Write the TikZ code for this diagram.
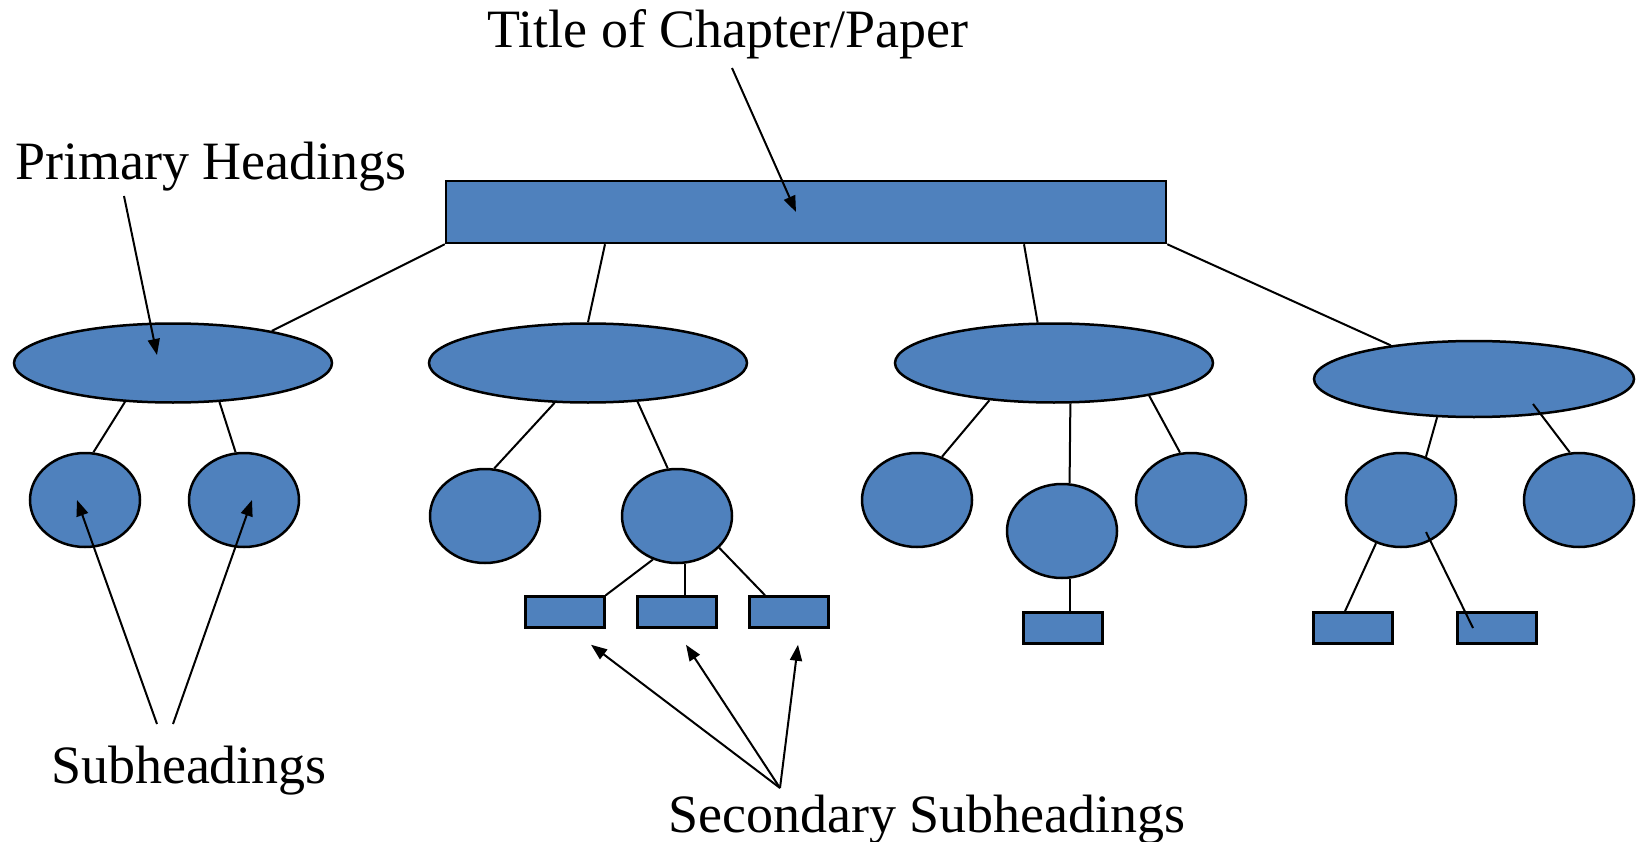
\documentclass[tikz,border=0pt]{standalone}
\usepackage{fontspec}
\setmainfont{Liberation Serif}
\definecolor{headblue}{RGB}{79, 129, 189}
\usetikzlibrary{shapes.geometric, arrows.meta, positioning, calc}
\tikzset{
  titlebox/.style={rectangle, draw=black, fill=headblue, line width=2.5pt, inner sep=0pt, minimum width=720pt, minimum height=62pt},
  primnode/.style={ellipse, draw=black, fill=headblue, line width=2.5pt, inner sep=0pt, minimum width=318pt, minimum height=79pt},
  subnode/.style={primnode, minimum width=110pt, minimum height=94pt},
  secbox/.style={titlebox, minimum width=79pt, minimum height=31pt},
  treeline/.style={line width=2pt, black},
  callout/.style={-{Triangle[length=16pt,width=12pt]}, line width=2pt, black},
  labeltext/.style={font=\fontsize{54}{60}\selectfont, inner sep=0pt, anchor=base},
}

\begin{document}
\begin{tikzpicture}[x=1pt, y=-1pt]
  \useasboundingbox (0,0) rectangle (1637,842);
  % chapter
  \node[titlebox] (title) at (806,212) {};
  % primary headings
  \node[primnode] (p1) at (173,363) {};
  \node[primnode] (p2) at (588,363) {};
  \node[primnode] (p3) at (1054,363) {};
  \node[primnode, minimum width=320pt, minimum height=76pt] (p4) at (1474,379) {};
  % subheadings
  \node[subnode] (s1) at (85,500) {};
  \node[subnode] (s2) at (244,500) {};
  \node[subnode] (s3) at (485,516) {};
  \node[subnode] (s4) at (677,516) {};
  \node[subnode] (s5) at (917,500) {};
  \node[subnode] (s6) at (1062,531) {};
  \node[subnode] (s7) at (1191,500) {};
  \node[subnode] (s8) at (1401,500) {};
  \node[subnode] (s9) at (1579,500) {};
  % secondary subheadings
  \node[secbox] (b1) at (565,612) {};
  \node[secbox] (b2) at (677,612) {};
  \node[secbox] (b3) at (789,612) {};
  \node[secbox] (b4) at (1063,628) {};
  \node[secbox] (b5) at (1353,628) {};
  \node[secbox] (b6) at (1497,628) {};

  % tree
  \foreach \i/\j in {title.south west/p1.18, title.south east/p4.158,
    p1.-141/s1.80, p1.-40/s2.100, p2.-130/s3.79, p2.-38/s4.101,
    p3.-150/s5.60, p3.-68/s6.81, p3.-19/s7.103, p4.-134/s8.60,
    s4.-119/b1.north east}
    \draw[treeline] (\i)--(\j);
  \draw[treeline] ([xshift=-201pt]title.south) -- (p2.north);
  \draw[treeline] ([xshift=218pt]title.south) -- (p3.112);
  \draw[treeline] ([shift={(59,25)}]p4.center) -- (s9.101);
  \draw[treeline] (s4.-80) -- (s4.-80 |- b2.north);
  \draw[treeline] (s4.-37) -- ([xshift=-24pt]b3.north);
  \draw[treeline] (s6.-81) -- (s6.-81 |- b4.north);
  \draw[treeline] (s8.-120) -- ([xshift=-8pt]b5.north);
  \draw[treeline] ([shift={(25,32)}]s8.center) -- ([xshift=-24pt]b6.center);

  % labels
  \node[labeltext] (ttl) at (728,48) {Title of Chapter/Paper};
  \node[labeltext] (prim) at (211,180) {Primary Headings};
  \node[labeltext] (sub) at (189,783) {Subheadings};
  \node[labeltext] (sec) at (927,832) {Secondary Subheadings};
  \coordinate (ttltail) at (732,68);
  \coordinate (primtail) at (124,196);
  \coordinate (subtailL) at (157,724);
  \coordinate (subtailR) at (173,724);
  \coordinate (sectail) at (780,788);

  \draw[callout] (ttltail) -- ([xshift=-10pt]title.center);
  \draw[callout] (primtail) -- ([shift={(-16,-8)}]p1.center);
  \draw[callout] (subtailL) -- ([xshift=-8pt]s1.center);
  \draw[callout] (subtailR) -- ([xshift=8pt]s2.center);
  \foreach \b/\dx in {b1/26, b2/9, b3/9}
    \draw[callout] (sectail) -- ([shift={(\dx,16)}]\b.south);
\end{tikzpicture}
\end{document}
